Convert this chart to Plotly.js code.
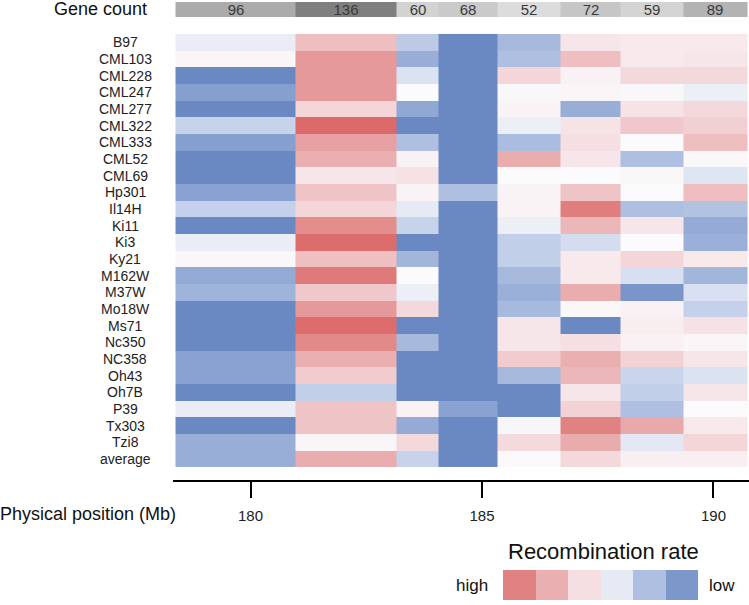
<!DOCTYPE html>
<html>
<head>
<meta charset="utf-8">
<script src="https://cdn.plot.ly/plotly-3.0.1.min.js"></script>
<style>
  html, body { margin: 0; padding: 0; background: #fff; }
  #chart { width: 749px; height: 605px; }
</style>
</head>
<body>
<div id="chart"></div>
<script>
// bin edges along the chromosome (Mb)
const binEdges = [178.38, 180.98, 183.15, 184.07, 185.33, 186.69, 188.0, 189.35, 190.73];
const geneCounts = [96, 136, 60, 68, 52, 72, 59, 89];

const lines = ['B97', 'CML103', 'CML228', 'CML247', 'CML277', 'CML322', 'CML333', 'CML52',
  'CML69', 'Hp301', 'Il14H', 'Ki11', 'Ki3', 'Ky21', 'M162W', 'M37W', 'Mo18W', 'Ms71',
  'Nc350', 'NC358', 'Oh43', 'Oh7B', 'P39', 'Tx303', 'Tzi8', 'average'];

// relative recombination rate, -1 = low (blue), 1 = high (red)
const rates = [
  [-0.12, 0.45, -0.45, -1, -0.6, 0.15, 0.12, 0.12],
  [0.04, 0.7, -0.7, -1, -0.55, 0.45, 0.12, 0.15],
  [-1, 0.7, -0.22, -1, 0.28, 0.06, 0.25, 0.25],
  [-0.82, 0.7, 0, -1, -0.02, 0.04, -0.02, -0.1],
  [-1, 0.27, -0.75, -1, 0.05, -0.7, 0.17, 0.25],
  [-0.37, 1.0, -1, -1, -0.1, 0.17, 0.37, 0.32],
  [-0.82, 0.65, -0.55, -1, -0.58, 0.2, 0, 0.45],
  [-1, 0.55, 0.06, -1, 0.57, 0.15, -0.55, 0.02],
  [-1, 0.15, 0.18, -1, 0, 0, 0.02, -0.2],
  [-0.8, 0.4, 0.05, -0.55, 0.05, 0.4, 0, 0.45],
  [-0.38, 0.28, -0.15, -1, 0.05, 0.88, -0.55, -0.52],
  [-1, 0.78, -0.37, -1, -0.1, 0.5, 0.15, -0.72],
  [-0.12, 0.98, -1, -1, -0.4, -0.27, 0, -0.68],
  [0.02, 0.43, -0.63, -1, -0.4, 0.12, 0.27, 0.13],
  [-0.73, 0.9, 0, -1, -0.6, 0.12, -0.25, -0.63],
  [-0.65, 0.38, -0.1, -1, -0.68, 0.57, -0.9, -0.24],
  [-1, 0.7, 0.25, -1, -0.6, 0.02, 0.07, -0.38],
  [-1, 0.98, -1, -1, 0.15, -1, 0.1, 0.18],
  [-1, 0.8, -0.6, -1, 0.15, 0.2, 0.07, 0.04],
  [-0.8, 0.55, -1, -1, 0.35, 0.55, 0.3, 0.15],
  [-0.8, 0.35, -1, -1, -0.6, 0.5, -0.35, -0.22],
  [-1, -0.4, -1, -1, -1, 0.15, -0.4, 0.15],
  [-0.12, 0.4, 0.07, -0.8, -1, 0.3, -0.55, 0],
  [-1, 0.4, -0.72, -1, -0.03, 0.85, 0.6, 0.13],
  [-0.7, 0.03, 0.25, -1, 0.24, 0.58, -0.17, 0.27],
  [-0.7, 0.57, -0.37, -1, 0.01, 0.25, 0.08, 0.08]
];

const legendLevels = [0.85, 0.55, 0.2, -0.15, -0.55, -0.88];

const rateScale = [
  [0, '#6a89c3'], [0.2, '#a7bade'], [0.35, '#d0daee'], [0.5, '#fbfafc'],
  [0.65, '#f3d2d5'], [0.8, '#e8a9aa'], [1, '#dc6a6a']
];
const font = 'Liberation Sans, Arial, sans-serif';
const H = 605, W = 749;
const py = p => (H - p) / H;   // pixel row -> paper y
const px = p => p / W;

const heat = {
  type: 'heatmap', x: binEdges, y: lines, z: rates,
  colorscale: rateScale, zmin: -1, zmax: 1, showscale: false,
  xaxis: 'x', yaxis: 'y', hoverinfo: 'skip'
};

const genes = {
  type: 'heatmap', x: binEdges, y: ['Gene count'], z: [geneCounts],
  colorscale: [[0, '#dcdcdc'], [1, '#7f7f7f']], zmin: 52, zmax: 136, showscale: false,
  texttemplate: '%{z}', textfont: {family: font, size: 15, color: '#3a3a3a'},
  xaxis: 'x', yaxis: 'y2', hoverinfo: 'skip'
};

const legendBoxes = {
  type: 'heatmap', x: [0, 1, 2, 3, 4, 5], y: ['r'], z: [legendLevels],
  colorscale: rateScale, zmin: -1, zmax: 1, showscale: false,
  xaxis: 'x2', yaxis: 'y3', hoverinfo: 'skip'
};

const rowLabels = lines.map(name => ({
  text: name, x: px(125), xref: 'paper', y: name, yref: 'y',
  xanchor: 'center', showarrow: false, font: {family: font, size: 14, color: '#222'}
}));

const hidden = {showticklabels: false, showgrid: false, zeroline: false, showline: false, ticks: ''};

const layout = {
  width: W, height: H,
  margin: {l: 0, r: 0, t: 0, b: 0},
  paper_bgcolor: '#fff', plot_bgcolor: '#fff',
  font: {family: font, color: '#222'},
  showlegend: false,
  xaxis: {
    domain: [px(173), 1], range: [178.326, 190.767],
    anchor: 'free', position: py(481),
    showline: true, linecolor: '#000', linewidth: 2,
    ticks: 'outside', ticklen: 16, tickwidth: 2, tickcolor: '#000',
    tickvals: [180, 185, 190], ticklabelstandoff: 5,
    tickfont: {family: font, size: 15, color: '#222'},
    showgrid: false, zeroline: false
  },
  yaxis: Object.assign({domain: [py(469), py(32.3)], autorange: 'reversed'}, hidden),
  yaxis2: Object.assign({domain: [py(17), py(2)]}, hidden),
  xaxis2: Object.assign({domain: [px(503), px(698)], anchor: 'y3', range: [-0.5, 5.5]}, hidden),
  yaxis3: Object.assign({domain: [py(600), py(570)], anchor: 'x2'}, hidden),
  annotations: rowLabels.concat([
    {text: 'Gene count', x: px(100), y: py(9.5), xref: 'paper', yref: 'paper',
      xanchor: 'center', yanchor: 'middle', showarrow: false, font: {family: font, size: 18, color: '#111'}},
    {text: 'Physical position (Mb)', x: px(88), y: py(514), xref: 'paper', yref: 'paper',
      xanchor: 'center', yanchor: 'middle', showarrow: false, font: {family: font, size: 18, color: '#111'}},
    {text: 'Recombination rate', x: px(603), y: py(551), xref: 'paper', yref: 'paper',
      xanchor: 'center', yanchor: 'middle', showarrow: false, font: {family: font, size: 22, color: '#111'}},
    {text: 'high', x: px(472), y: py(585), xref: 'paper', yref: 'paper',
      xanchor: 'center', yanchor: 'middle', showarrow: false, font: {family: font, size: 17, color: '#111'}},
    {text: 'low', x: px(722), y: py(585), xref: 'paper', yref: 'paper',
      xanchor: 'center', yanchor: 'middle', showarrow: false, font: {family: font, size: 17, color: '#111'}}
  ])
};

Plotly.newPlot('chart', [heat, genes, legendBoxes], layout, {displayModeBar: false, staticPlot: true});
</script>
</body>
</html>
